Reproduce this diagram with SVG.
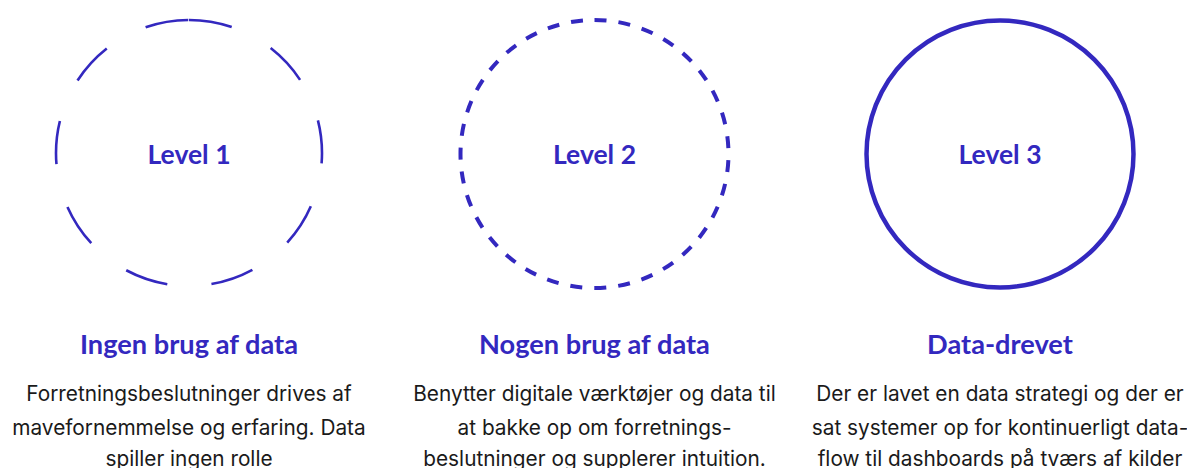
<svg xmlns="http://www.w3.org/2000/svg" width="1187" height="468" viewBox="0 0 1187 468">
<style>
.ring{fill:none;stroke:#3328bf}
.lvl{font-family:Lato,"Liberation Sans",sans-serif;font-weight:700;font-size:26.5px;fill:#3328bf;text-anchor:middle}
.hd{font-family:Lato,"Liberation Sans",sans-serif;font-weight:700;font-size:27.2px;fill:#3328bf;text-anchor:middle}
.body{font-family:Inter,"Liberation Sans",sans-serif;font-size:20.8px;fill:#1a1a1a;text-anchor:middle}
</style>
<rect width="1187" height="468" fill="#ffffff"/>
<g id="node-level1">
<circle class="ring" cx="189" cy="153" r="133" stroke-width="2.6" stroke-dasharray="43.5 44.4" transform="rotate(-90 189 153)"/>
<text class="lvl" x="189" y="164">Level 1</text>
<text class="hd" x="189" y="354">Ingen brug af data</text>
<text class="body" x="189" y="401">Forretningsbeslutninger drives af</text>
<text class="body" x="189" y="435">mavefornemmelse og erfaring. Data</text>
<text class="body" x="189" y="466">spiller ingen rolle</text>
</g>
<g id="node-level2">
<circle class="ring" cx="594.5" cy="154" r="134" stroke-width="4" stroke-dasharray="12 12.06" transform="rotate(-90 594.5 154)"/>
<text class="lvl" x="594.5" y="164">Level 2</text>
<text class="hd" x="594.5" y="354">Nogen brug af data</text>
<text class="body" x="594.5" y="401">Benytter digitale værktøjer og data til</text>
<text class="body" x="594.5" y="435">at bakke op om forretnings-</text>
<text class="body" x="594.5" y="466">beslutninger og supplerer intuition.</text>
</g>
<g id="node-level3">
<circle class="ring" cx="1000" cy="154" r="133.5" stroke-width="4.5"/>
<text class="lvl" x="1000" y="164">Level 3</text>
<text class="hd" x="1000" y="354">Data-drevet</text>
<text class="body" x="1000" y="401">Der er lavet en data strategi og der er</text>
<text class="body" x="1000" y="435">sat systemer op for kontinuerligt data-</text>
<text class="body" x="1000" y="466">flow til dashboards på tværs af kilder</text>
</g>
<g id="connectors"></g>
</svg>
